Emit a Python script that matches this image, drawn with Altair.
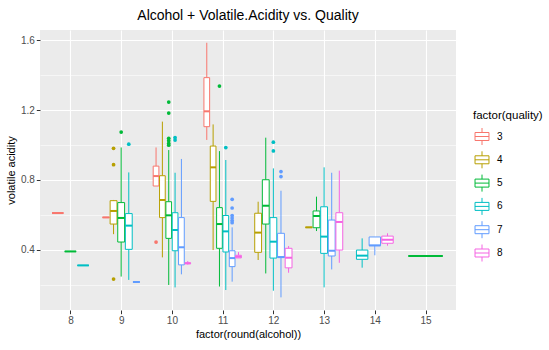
import altair as alt
import pandas as pd

# ---- box statistics ----
box_cat = [8, 8, 8,
           9, 9, 9, 9, 9,
           10, 10, 10, 10, 10, 10,
           11, 11, 11, 11, 11, 11,
           12, 12, 12, 12, 12,
           13, 13, 13, 13, 13,
           14, 14, 14,
           15]
box_quality = ["3", "5", "6",
               "3", "4", "5", "6", "7",
               "3", "4", "5", "6", "7", "8",
               "3", "4", "5", "6", "7", "8",
               "4", "5", "6", "7", "8",
               "4", "5", "6", "7", "8",
               "6", "7", "8",
               "5"]
box_low = [0.61, 0.39, 0.31,
           0.585, 0.489, 0.246, 0.227, 0.215,
           0.765, 0.356, 0.198, 0.184, 0.259, 0.315,
           1.029, 0.398, 0.189, 0.169, 0.217, 0.353,
           0.341, 0.264, 0.165, 0.127, 0.268,
           0.528, 0.507, 0.184, 0.287, 0.325,
           0.297, 0.368, 0.423,
           0.364]
box_q1 = [0.61, 0.39, 0.31,
          0.585, 0.547, 0.444, 0.402, 0.215,
          0.765, 0.584, 0.465, 0.394, 0.313, 0.32,
          1.105, 0.677, 0.408, 0.387, 0.303, 0.353,
          0.385, 0.547, 0.352, 0.355, 0.296,
          0.528, 0.526, 0.379, 0.364, 0.398,
          0.345, 0.423, 0.437,
          0.364]
box_median = [0.61, 0.39, 0.31,
              0.585, 0.622, 0.582, 0.538, 0.215,
              0.822, 0.685, 0.597, 0.513, 0.414, 0.322,
              1.193, 0.872, 0.547, 0.505, 0.352, 0.36,
              0.498, 0.652, 0.446, 0.358, 0.354,
              0.528, 0.593, 0.475, 0.394, 0.559,
              0.366, 0.425, 0.457,
              0.364]
box_q3 = [0.61, 0.39, 0.31,
          0.585, 0.681, 0.670, 0.607, 0.215,
          0.879, 0.824, 0.675, 0.612, 0.584, 0.325,
          1.386, 0.994, 0.641, 0.596, 0.394, 0.368,
          0.609, 0.801, 0.584, 0.494, 0.408,
          0.528, 0.622, 0.646, 0.570, 0.612,
          0.398, 0.473, 0.478,
          0.364]
box_high = [0.61, 0.39, 0.31,
            0.585, 0.685, 0.986, 0.843, 0.215,
            0.986, 1.134, 0.971, 0.841, 0.920, 0.335,
            1.586, 1.118, 0.965, 0.914, 0.528, 0.386,
            0.675, 1.042, 0.866, 0.738, 0.421,
            0.528, 0.704, 0.872, 0.841, 0.853,
            0.465, 0.473, 0.494,
            0.364]

# ---- outliers ----
out_cat = [9, 9, 9, 9, 9,
           10, 10, 10, 10, 10, 10, 10, 10, 10,
           11, 11, 11, 11, 11, 11, 11, 11,
           12, 12, 12, 12]
out_quality = ["4", "4", "4", "5", "6",
               "3", "5", "5", "5", "5", "5", "5", "6", "6",
               "5", "6", "7", "7", "7", "7", "7", "7",
               "6", "6", "7", "7"]
out_value = [0.981, 0.887, 0.232, 1.074, 1.005,
             0.444, 1.246, 1.183, 1.038, 1.025, 1.009, 0.999, 1.043, 1.028,
             1.338, 0.985, 0.689, 0.639, 0.596, 0.581, 0.567, 0.555,
             1.016, 0.966, 0.848, 0.819]

qualities = ["3", "4", "5", "6", "7", "8"]
hue_colors = ["#F8766D", "#B79F00", "#00BA38", "#00BFC4", "#619CFF", "#F564E3"]
x_ticks = [8, 9, 10, 11, 12, 13, 14, 15]
y_ticks = [0.2, 0.4, 0.6, 0.8, 1.0, 1.2, 1.4, 1.6]

# ---- dodge (like ggplot's position_dodge2) ----
boxes = pd.DataFrame(dict(cat=box_cat, quality=box_quality, low=box_low, q1=box_q1,
                          med=box_median, q3=box_q3, high=box_high))
DODGE_W = 0.75
boxes["n"] = boxes.groupby("cat")["quality"].transform("count")
boxes["i"] = boxes.groupby("cat").cumcount()
boxes["xc"] = boxes["cat"] - DODGE_W / 2 + (boxes["i"] + 0.5) * DODGE_W / boxes["n"]
boxes["half"] = 0.9 * DODGE_W / boxes["n"] / 2
boxes["xl"] = boxes["xc"] - boxes["half"]
boxes["xr"] = boxes["xc"] + boxes["half"]

outs = pd.DataFrame(dict(cat=out_cat, quality=out_quality, value=out_value))
outs = outs.merge(boxes[["cat", "quality", "xc"]], on=["cat", "quality"], how="left")

color_scale = alt.Scale(domain=qualities, range=hue_colors)
x_scale = alt.Scale(domain=[7.4, 15.6], nice=False, zero=False)
y_scale = alt.Scale(domain=[0.0545, 1.659], nice=False, zero=False)

minor_test = "round(datum.value*10) % 4 != 0"
x_axis = alt.Axis(values=x_ticks, format="d", grid=True, gridColor="white", gridWidth=1.1,
                  domain=False, tickColor="#333333", tickSize=3.7, tickWidth=1,
                  labelColor="#4D4D4D", labelFontSize=10, labelPadding=2,
                  title="factor(round(alcohol))", titleFontSize=11,
                  titleFontWeight="normal", titleColor="black", titlePadding=3)
y_axis = alt.Axis(values=y_ticks, grid=True, gridColor="white",
                  gridWidth={"condition": {"test": minor_test, "value": 0.55}, "value": 1.1},
                  tickOpacity={"condition": {"test": minor_test, "value": 0}, "value": 1},
                  labelExpr="round(datum.value*10) % 4 == 0 ? format(datum.value, '.1f') : ''",
                  domain=False, tickColor="#333333", tickSize=3.7, tickWidth=1,
                  labelColor="#4D4D4D", labelFontSize=10, labelPadding=2,
                  title="volatile acidity", titleFontSize=11, titleFontWeight="normal",
                  titleColor="black", titlePadding=4)

base = alt.Chart(boxes)

# legend key glyph drawn only from straight segments (no fillable area)
box_path = ("M-0.82,-0.47H0.82 M0.82,-0.47V0.47 M0.82,0.47H-0.82 M-0.82,0.47V-0.47 "
            "M-0.82,0H0.82 M0,-0.47V-1 M0,0.47V1")
legend = alt.Legend(title="factor(quality)", titleFontSize=11.5,
                    titleFontWeight="normal", titleColor="black",
                    labelFontSize=10, labelColor="black",
                    orient="none", legendX=433, legendY=80,
                    symbolType=box_path, symbolSize=289,
                    symbolFillColor="white", symbolStrokeWidth=1,
                    rowPadding=1.3, labelOffset=6, titlePadding=6)
stroke_enc = alt.Stroke("quality:N", scale=color_scale, legend=legend)

whisk_lo = base.mark_rule(strokeWidth=1).encode(
    x=alt.X("xc:Q", scale=x_scale, axis=x_axis),
    y=alt.Y("low:Q", scale=y_scale, axis=y_axis),
    y2="q1:Q",
    stroke=stroke_enc,
)
whisk_hi = base.mark_rule(strokeWidth=1).encode(
    x=alt.X("xc:Q", scale=x_scale, axis=x_axis),
    y=alt.Y("q3:Q", scale=y_scale, axis=y_axis),
    y2="high:Q",
    stroke=stroke_enc,
)
rects = base.mark_rect(fill="white", strokeWidth=1).encode(
    x=alt.X("xl:Q", scale=x_scale, axis=x_axis),
    x2="xr:Q",
    y=alt.Y("q1:Q", scale=y_scale, axis=y_axis),
    y2="q3:Q",
    stroke=stroke_enc,
)
medians = base.mark_rule(strokeWidth=2).encode(
    x=alt.X("xl:Q", scale=x_scale, axis=x_axis),
    x2="xr:Q",
    y=alt.Y("med:Q", scale=y_scale, axis=y_axis),
    stroke=stroke_enc,
)
points = alt.Chart(outs).mark_circle(size=14, opacity=1).encode(
    x=alt.X("xc:Q", scale=x_scale, axis=x_axis),
    y=alt.Y("value:Q", scale=y_scale, axis=y_axis),
    fill=alt.Fill("quality:N", scale=color_scale, legend=None),
)

chart = alt.layer(whisk_lo, whisk_hi, rects, medians, points).properties(
    width=416, height=280,
    autosize=alt.AutoSizeParams(type="none"),
    padding={"left": 40, "top": 30, "right": 93, "bottom": 40},
    title=alt.Title("Alcohol + Volatile.Acidity vs. Quality", fontSize=14,
                    fontWeight="normal", color="black", anchor="middle", offset=7),
).configure(
    font="Liberation Sans",
    view=alt.ViewConfig(fill="#EBEBEB", strokeWidth=0),
)

chart.save("out.html", embed_options={"renderer": "svg", "actions": False})
